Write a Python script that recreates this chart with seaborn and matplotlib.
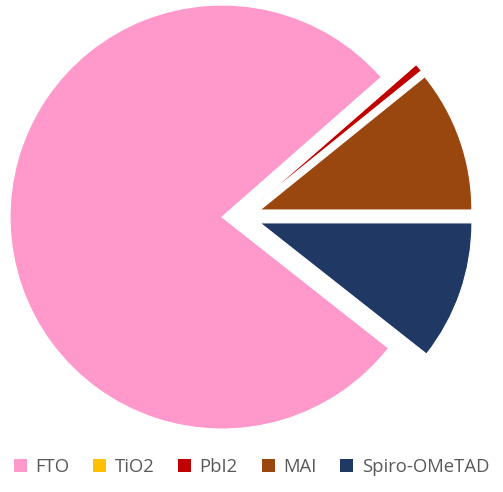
import numpy as np
import matplotlib
matplotlib.use("Agg")
import matplotlib.pyplot as plt
import seaborn as sns
from matplotlib.patches import Patch

materials = ["FTO", "TiO2", "PbI2", "MAI", "Spiro-OMeTAD"]
shares = [77.8, 0.05, 0.6, 10.8, 10.6]
colors = ["#FF99CC", "#FFC000", "#C00000", "#9A460F", "#1F3864"]

sns.set_theme(style="white")
plt.rcParams["font.family"] = ["Open Sans", "DejaVu Sans"]

fig = plt.figure(figsize=(5.03, 4.92), dpi=100)
ax = fig.add_axes([0, 0, 1, 1])

# spiro wedge ends on the horizontal, slices go clockwise like excel
start = -360 * shares[-1] / sum(shares)
ax.pie(shares, colors=colors, explode=[0.092] * len(shares),
       startangle=start, counterclock=False,
       wedgeprops=dict(edgecolor="white", linewidth=0.8))

# centre of pie at about (241, 216) px, radius ~212 px
r = 212.0
cx, cy = 241.5, 216.5
ax.set_xlim(-cx / r, (503 - cx) / r)
ax.set_ylim(-(492 - cy) / r, cy / r)
ax.set_aspect("auto")
ax.axis("off")

handles = [Patch(facecolor=c, edgecolor="none") for c in colors]
fig.legend(handles, materials, loc="center", bbox_to_anchor=(0.5, 0.05),
           ncol=5, frameon=False, fontsize=13.3, handlelength=0.7,
           handleheight=0.7, handletextpad=0.45, columnspacing=1.3,
           borderpad=0.1, labelcolor="#595959")

fig.savefig("out.png", dpi=100)
